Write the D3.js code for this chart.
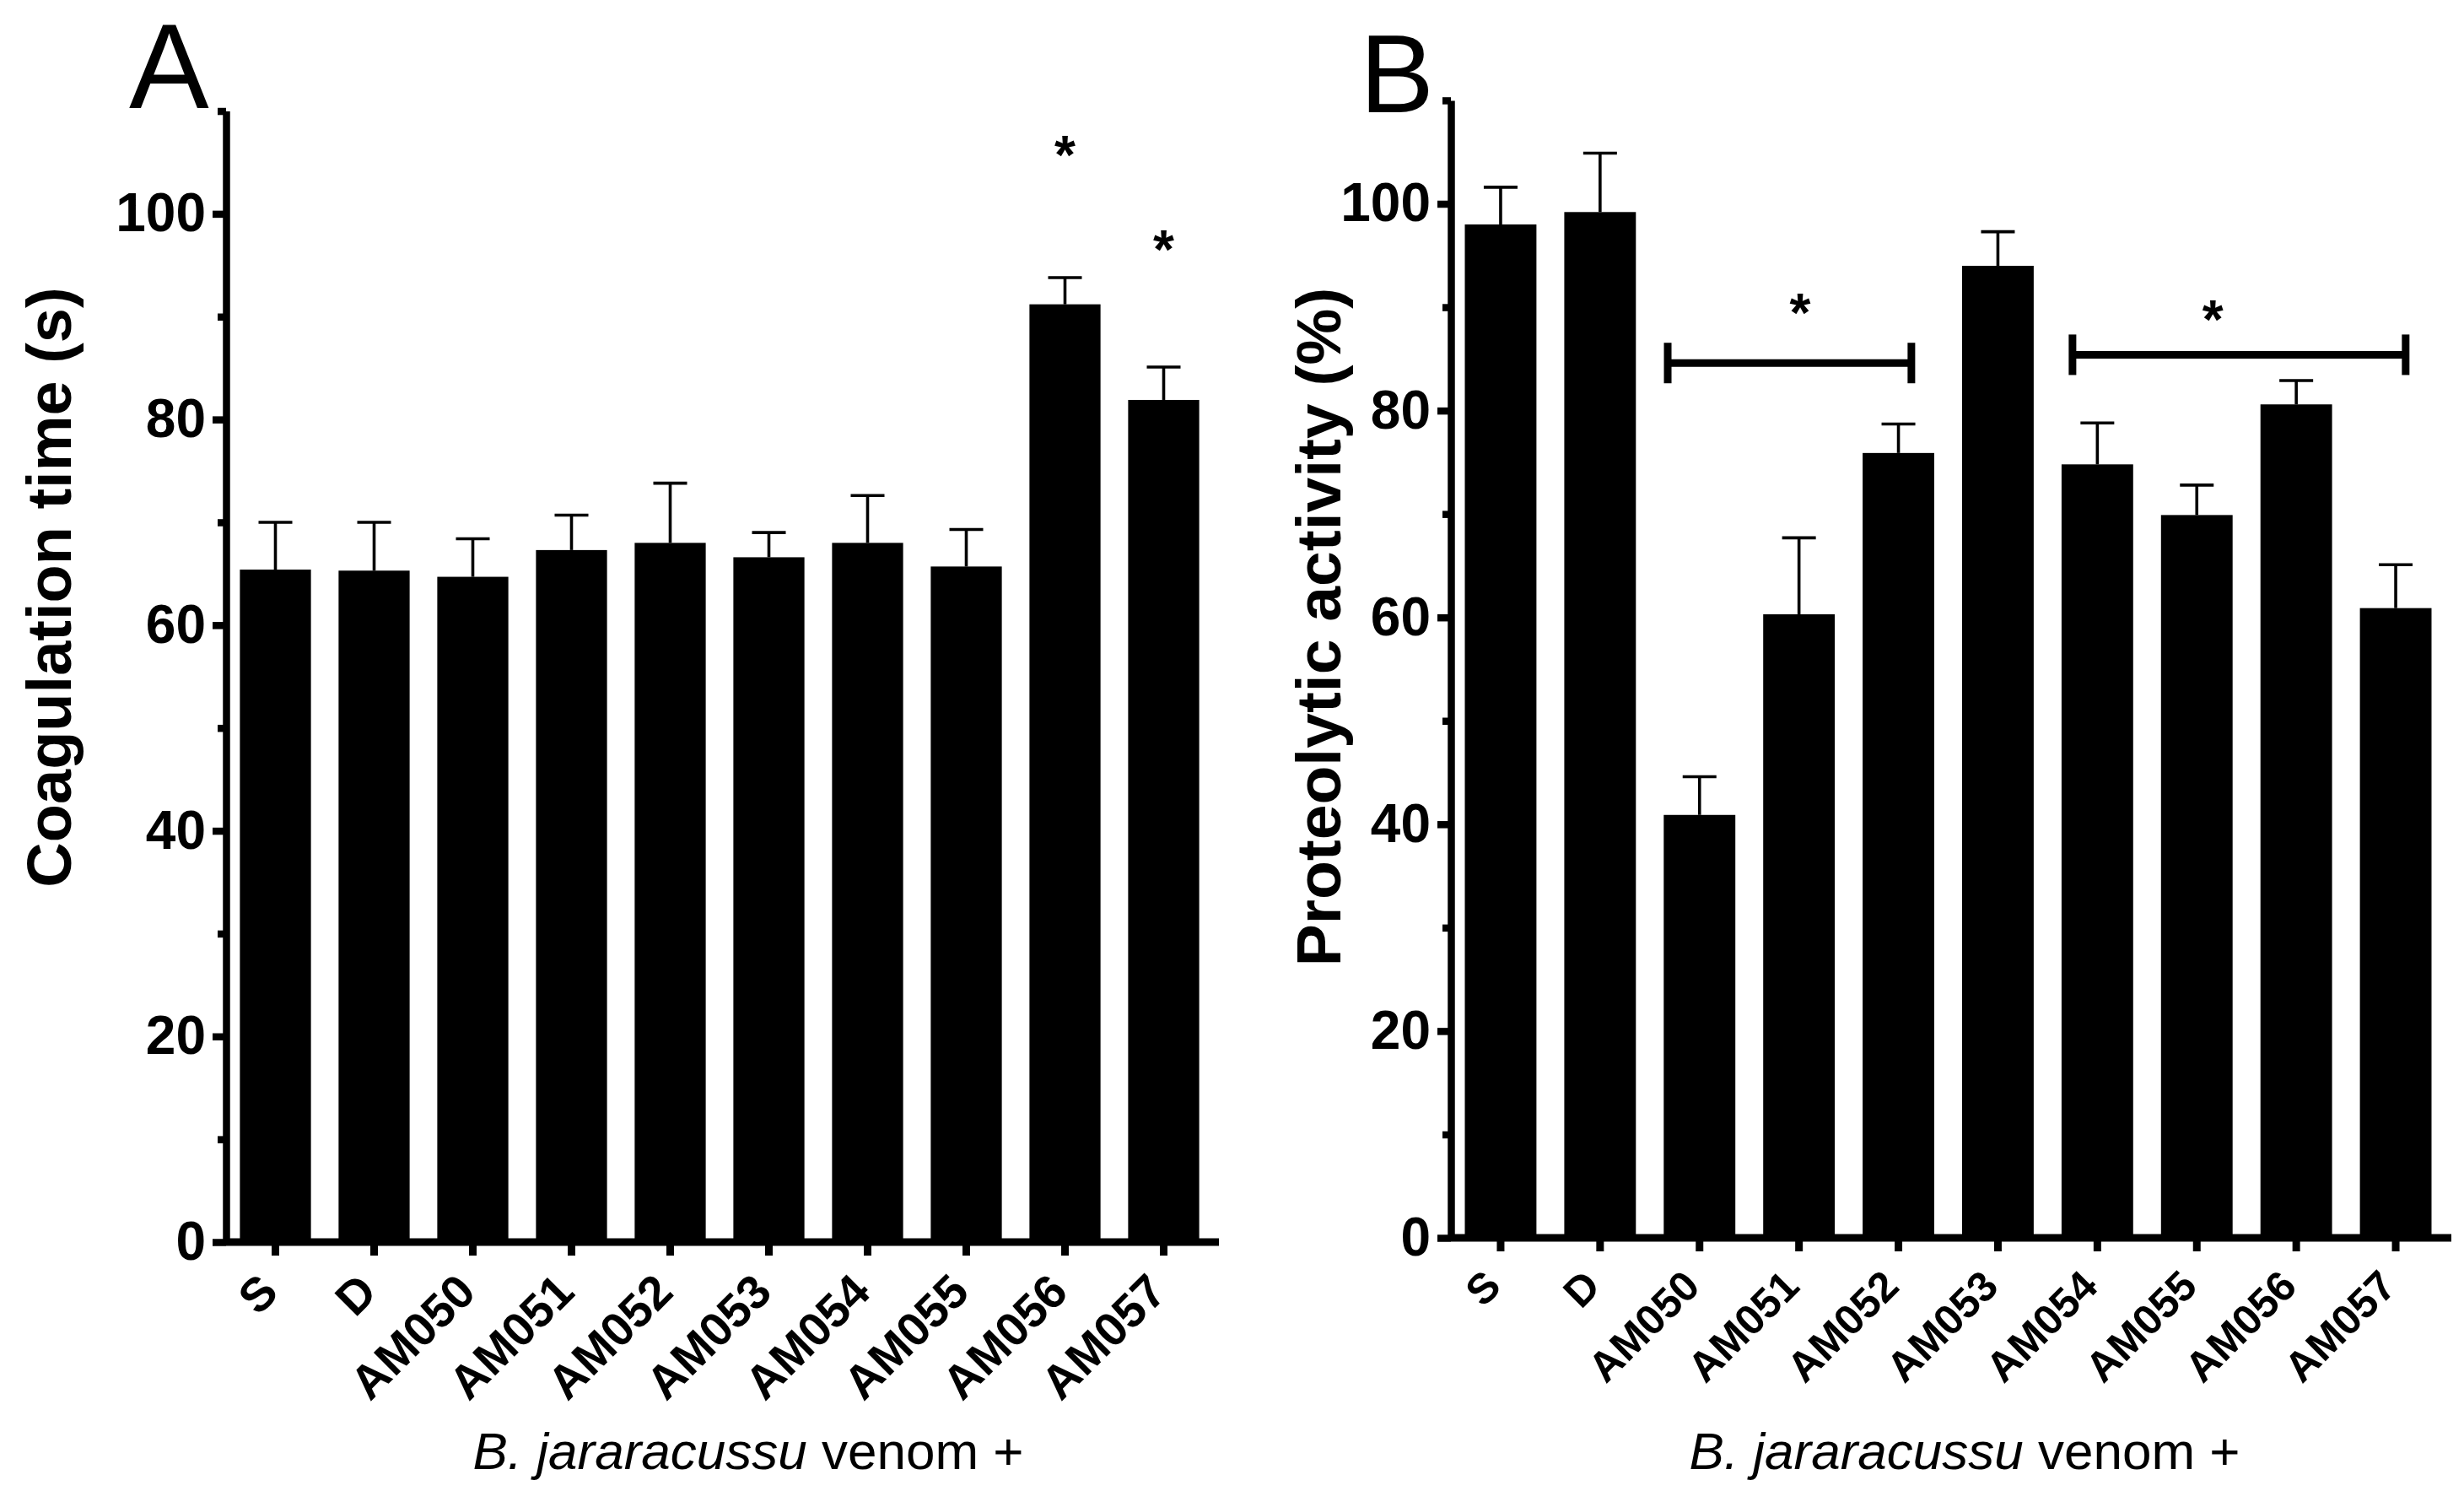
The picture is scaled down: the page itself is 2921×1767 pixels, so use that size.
<!DOCTYPE html>
<html>
<head>
<meta charset="utf-8">
<script src="https://cdn.jsdelivr.net/npm/d3@7"></script>
<style>
    body { margin: 0; background: #fff; }
    svg { display: block; }
    text { font-family: "Liberation Sans", Arial, Helvetica, sans-serif; fill: #000; }
</style>
</head>
<body>
<svg id="fig" width="2921" height="1767"></svg>
<script>
// ---- data ----
let groups = ["S", "D", "AM050", "AM051", "AM052", "AM053", "AM054", "AM055", "AM056", "AM057"];

// panel A: coagulation time (s), mean and upper SEM
let coagMean = [65.4, 65.3, 64.7, 67.3, 68.0, 66.6, 68.0, 65.7, 91.2, 81.9];
let coagErr  = [4.6, 4.7, 3.7, 3.4, 5.8, 2.4, 4.6, 3.6, 2.6, 3.2];

// panel B: proteolytic activity (%), mean and upper SEM
let protMean = [98.0, 99.2, 40.9, 60.3, 75.9, 94.0, 74.8, 69.9, 80.6, 60.9];
let protErr  = [3.6, 5.7, 3.7, 7.4, 2.8, 3.3, 4.0, 2.9, 2.3, 4.2];

let yTicks = [0, 20, 40, 60, 80, 100];
let yMinorTicks = [10, 30, 50, 70, 90, 110];
let yMax = 110;

// significance marks
let coagStars = [
    { group: "AM056", y: 106.7 },
    { group: "AM057", y: 97.5 }
];
let protBrackets = [
    { from: "AM050", to: "AM052", mid: "AM051", y: 84.6, star: 90.4 },
    { from: "AM054", to: "AM057", mid: "AM055", y: 85.4, star: 89.8 }
];

let svg = d3.select("#fig");

// bracket end offsets / star offsets, in units of band step
let bracketPad = [[-0.32, 0.13, 0.01], [-0.25, 0.10, 0.16]];

function drawPanel(cfg) {
    let g = svg.append("g");

    let x = d3.scaleBand()
        .domain(groups)
        .range(cfg.xRange)
        .paddingInner(0.28)
        .paddingOuter(0.14);
    let y = d3.scaleLinear()
        .domain([0, yMax])
        .range(cfg.yRange);

    let bw = x.bandwidth();
    let step = x.step();
    let cx = function(d) { return x(d) + bw / 2; };

    let rows = groups.map(function(d, i) {
        return { group: d, mean: cfg.mean[i], err: cfg.err[i] };
    });

    // bars
    g.selectAll("rect.bar")
        .data(rows)
        .join("rect")
        .attr("class", "bar")
        .attr("x", d => x(d.group))
        .attr("y", d => y(d.mean))
        .attr("width", bw)
        .attr("height", d => y(0) - y(d.mean))
        .attr("fill", "#000");

    // upper error bars
    let eb = g.selectAll("g.err")
        .data(rows)
        .join("g")
        .attr("class", "err")
        .attr("stroke", "#000")
        .attr("stroke-width", 3.6);
    eb.append("line")
        .attr("x1", d => cx(d.group)).attr("x2", d => cx(d.group))
        .attr("y1", d => y(d.mean)).attr("y2", d => y(d.mean + d.err));
    eb.append("line")
        .attr("x1", d => cx(d.group) - 20).attr("x2", d => cx(d.group) + 20)
        .attr("y1", d => y(d.mean + d.err)).attr("y2", d => y(d.mean + d.err));

    // y axis (major + minor)
    let ga = g.append("g")
        .attr("transform", `translate(${cfg.xRange[0]},0)`)
        .call(d3.axisLeft(y).tickValues(yTicks).tickSize(16).tickSizeOuter(0).tickPadding(8));
    ga.attr("font-family", null).attr("font-size", 64).attr("font-weight", "bold");
    ga.select(".domain").attr("stroke-width", 8.5);
    ga.selectAll(".tick line").attr("stroke-width", 8.5);

    let gm = g.append("g")
        .attr("transform", `translate(${cfg.xRange[0]},0)`)
        .call(d3.axisLeft(y).tickValues(yMinorTicks).tickSize(10).tickSizeOuter(0).tickFormat(""));
    gm.select(".domain").remove();
    gm.selectAll(".tick line").attr("stroke-width", 8.5);

    // x axis
    let gx = g.append("g")
        .attr("transform", `translate(0,${cfg.yRange[0]})`)
        .call(d3.axisBottom(x).tickSize(16).tickSizeOuter(0));
    gx.attr("font-family", null).attr("font-size", cfg.xLabelSize).attr("font-weight", "bold");
    gx.select(".domain")
        .attr("d", `M${cfg.xRange[0]},0H${cfg.xRange[1] + 7}`)
        .attr("stroke-width", 9);
    gx.selectAll(".tick line").attr("stroke-width", 9);
    gx.selectAll(".tick text")
        .attr("y", 0)
        .attr("dy", 0)
        .attr("text-anchor", "end")
        .attr("transform", `translate(${cfg.labelDx},${cfg.labelDy}) rotate(-45)`);

    // y title
    g.append("text")
        .attr("transform", `translate(${cfg.yTitleX},${cfg.yTitleY}) rotate(-90)`)
        .attr("text-anchor", "middle")
        .attr("font-size", cfg.yTitleSize)
        .attr("font-weight", "bold")
        .text(cfg.yTitle);

    // x title
    let xt = g.append("text")
        .attr("x", cfg.xTitleX)
        .attr("y", 1741)
        .attr("text-anchor", "middle")
        .attr("font-size", 62);
    xt.append("tspan").attr("font-style", "italic").text("B. jararacussu");
    xt.append("tspan").text(" venom +");

    // panel letter
    g.append("text")
        .attr("x", cfg.letterX)
        .attr("y", cfg.letterY)
        .attr("font-size", cfg.letterSize)
        .text(cfg.letter);

    return { g: g, x: x, y: y, cx: cx, step: step };
}

// ---- panel A ----
let A = drawPanel({
    mean: coagMean, err: coagErr,
    xRange: [268, 1438], yRange: [1472, 1472 - 12.186 * yMax],
    xLabelSize: 56, labelDx: 6, labelDy: 62,
    yTitle: "Coagulation time (s)", yTitleX: 84, yTitleY: 696, yTitleSize: 74,
    xTitleX: 887,
    letter: "A", letterX: 153, letterY: 128, letterSize: 142
});

A.g.selectAll("text.star")
    .data(coagStars)
    .join("text")
    .attr("class", "star")
    .attr("x", d => A.cx(d.group))
    .attr("y", d => A.y(d.y) + 34)
    .attr("text-anchor", "middle")
    .attr("font-size", 64)
    .attr("font-weight", "bold")
    .text("*");

// ---- panel B ----
let B = drawPanel({
    mean: protMean, err: protErr,
    xRange: [1720, 2899], yRange: [1467, 1467 - 12.255 * yMax],
    xLabelSize: 50, labelDx: 3, labelDy: 60,
    yTitle: "Proteolytic activity (%)", yTitleX: 1589, yTitleY: 743, yTitleSize: 75,
    xTitleX: 2329,
    letter: "B", letterX: 1612, letterY: 133, letterSize: 132
});

protBrackets.forEach(function(b, i) {
    let pad = bracketPad[i];
    let x0 = B.cx(b.from) + pad[0] * B.step;
    let x1 = B.cx(b.to) + pad[1] * B.step;
    let yy = B.y(b.y);
    let bg = B.g.append("g").attr("stroke", "#000").attr("stroke-width", 9).attr("fill", "none");
    bg.append("line").attr("x1", x0).attr("x2", x1).attr("y1", yy).attr("y2", yy);
    bg.append("line").attr("x1", x0).attr("x2", x0).attr("y1", yy - 24).attr("y2", yy + 24);
    bg.append("line").attr("x1", x1).attr("x2", x1).attr("y1", yy - 24).attr("y2", yy + 24);

    B.g.append("text")
        .attr("x", B.cx(b.mid) + pad[2] * B.step)
        .attr("y", B.y(b.star) + 34)
        .attr("text-anchor", "middle")
        .attr("font-size", 64)
        .attr("font-weight", "bold")
        .text("*");
});
</script>
</body>
</html>
